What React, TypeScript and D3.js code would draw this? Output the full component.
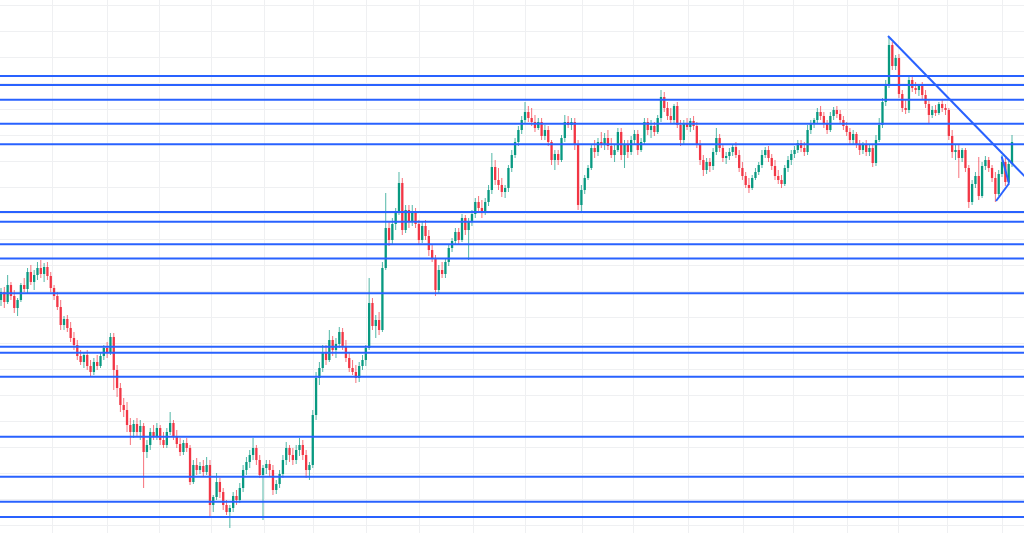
import React, { useRef, useEffect } from 'react';
import * as d3 from 'd3';

// [open, high, low, close], one row per bar
const candles: [number, number, number, number][] = [
  [300, 312, 294, 308], [308, 313, 292, 298], [298, 325, 296, 315], [315, 318, 300, 304], [304, 310, 287, 292],
  [292, 302, 284, 300], [300, 317, 298, 315], [315, 322, 308, 311], [311, 332, 307, 328], [328, 335, 315, 318],
  [318, 330, 310, 325], [325, 338, 320, 332], [332, 340, 322, 326], [326, 337, 318, 333], [333, 338, 320, 324],
  [324, 328, 308, 312], [312, 315, 300, 304], [304, 308, 290, 293], [293, 300, 270, 275], [275, 284, 270, 281],
  [281, 285, 268, 272], [272, 278, 258, 262], [262, 268, 250, 255], [255, 260, 240, 244], [244, 250, 235, 238],
  [238, 248, 232, 245], [245, 250, 230, 234], [234, 240, 223, 228], [228, 242, 225, 238], [238, 245, 230, 234],
  [234, 248, 232, 244], [244, 255, 240, 252], [252, 258, 242, 248], [248, 267, 245, 263], [263, 267, 210, 230],
  [230, 235, 203, 212], [212, 217, 188, 195], [195, 202, 183, 190], [190, 198, 168, 175], [175, 182, 155, 168],
  [168, 180, 162, 176], [176, 182, 163, 168], [168, 180, 160, 174], [174, 177, 112, 148], [148, 160, 142, 155],
  [155, 172, 150, 168], [168, 175, 160, 164], [164, 177, 160, 172], [172, 175, 155, 160], [160, 168, 152, 155],
  [155, 172, 152, 168], [168, 188, 165, 177], [177, 180, 160, 164], [164, 170, 152, 156], [156, 162, 144, 148],
  [148, 160, 145, 157], [157, 162, 148, 152], [152, 155, 115, 118], [118, 140, 116, 135], [135, 142, 125, 130],
  [130, 138, 126, 134], [134, 140, 124, 128], [128, 143, 125, 135], [135, 140, 83, 95], [95, 105, 88, 103],
  [103, 127, 100, 118], [118, 122, 102, 108], [108, 112, 90, 95], [95, 100, 85, 88], [88, 95, 72, 92],
  [92, 108, 88, 104], [104, 110, 95, 100], [100, 117, 97, 112], [112, 135, 108, 130], [130, 143, 125, 138],
  [138, 150, 132, 145], [145, 162, 140, 152], [152, 155, 135, 140], [140, 145, 122, 125], [125, 135, 80, 132],
  [132, 140, 126, 136], [136, 140, 124, 130], [130, 135, 105, 110], [110, 120, 106, 116], [116, 130, 112, 126],
  [126, 145, 122, 140], [140, 158, 135, 152], [152, 155, 138, 145], [145, 152, 135, 140], [140, 155, 136, 150],
  [150, 162, 144, 155], [155, 160, 140, 145], [145, 150, 122, 130], [130, 138, 120, 135], [135, 190, 132, 185],
  [185, 228, 180, 222], [222, 238, 215, 232], [232, 255, 228, 248], [248, 255, 235, 240], [240, 270, 238, 260],
  [260, 264, 244, 250], [250, 262, 242, 256], [256, 273, 252, 268], [268, 272, 250, 254], [254, 260, 238, 242],
  [242, 248, 228, 232], [232, 240, 225, 228], [228, 235, 217, 222], [222, 238, 218, 234], [234, 245, 230, 240],
  [240, 255, 234, 252], [252, 322, 250, 297], [297, 302, 270, 274], [274, 285, 262, 280], [280, 288, 265, 270],
  [270, 338, 268, 332], [332, 407, 330, 372], [372, 378, 354, 360], [360, 382, 356, 376], [376, 392, 370, 388],
  [388, 428, 385, 417], [417, 422, 365, 370], [370, 395, 367, 390], [390, 395, 372, 378], [378, 395, 374, 388],
  [388, 392, 372, 376], [376, 380, 355, 360], [360, 378, 357, 374], [374, 380, 360, 364], [364, 370, 344, 350],
  [350, 355, 338, 342], [342, 345, 304, 310], [310, 335, 306, 330], [330, 338, 322, 326], [326, 342, 322, 338],
  [338, 356, 334, 352], [352, 362, 348, 359], [359, 372, 355, 368], [368, 372, 356, 360], [360, 386, 358, 382],
  [382, 385, 365, 370], [370, 382, 340, 378], [378, 390, 374, 386], [386, 402, 382, 398], [398, 404, 388, 392],
  [392, 400, 382, 388], [388, 402, 385, 398], [398, 415, 394, 410], [410, 447, 406, 433], [433, 440, 415, 420],
  [420, 432, 410, 415], [415, 422, 403, 408], [408, 415, 402, 412], [412, 435, 408, 432], [432, 450, 428, 445],
  [445, 462, 442, 458], [458, 474, 454, 470], [470, 484, 466, 480], [480, 498, 476, 488], [488, 494, 478, 482],
  [482, 492, 474, 478], [478, 485, 468, 472], [472, 482, 470, 478], [478, 482, 460, 464], [464, 475, 460, 470],
  [470, 474, 454, 458], [458, 460, 435, 440], [440, 450, 430, 446], [446, 450, 435, 440], [440, 465, 438, 462],
  [462, 485, 458, 478], [478, 484, 472, 475], [475, 482, 470, 478], [478, 482, 450, 455], [455, 460, 390, 395],
  [395, 415, 387, 410], [410, 425, 406, 422], [422, 435, 420, 432], [432, 456, 430, 452], [452, 460, 442, 448],
  [448, 462, 444, 458], [458, 468, 452, 455], [455, 467, 450, 462], [462, 470, 450, 454], [454, 462, 442, 445],
  [445, 455, 438, 450], [450, 472, 448, 468], [468, 472, 440, 445], [445, 460, 432, 455], [455, 460, 442, 448],
  [448, 464, 445, 460], [460, 470, 455, 466], [466, 470, 445, 450], [450, 462, 448, 458], [458, 482, 455, 478],
  [478, 482, 465, 470], [470, 480, 462, 474], [474, 478, 464, 468], [468, 485, 466, 482], [482, 510, 478, 503],
  [503, 508, 488, 492], [492, 498, 480, 484], [484, 492, 476, 480], [480, 496, 476, 494], [494, 498, 472, 475],
  [475, 480, 454, 460], [460, 480, 456, 476], [476, 482, 470, 473], [473, 482, 468, 479], [479, 484, 470, 474],
  [474, 478, 452, 455], [455, 460, 435, 440], [440, 445, 424, 430], [430, 442, 426, 438], [438, 442, 428, 434],
  [434, 452, 430, 448], [448, 472, 445, 462], [462, 466, 448, 452], [452, 456, 438, 442], [442, 448, 436, 444],
  [444, 452, 440, 448], [448, 456, 444, 453], [453, 458, 442, 445], [445, 450, 428, 432], [432, 438, 420, 424],
  [424, 428, 412, 415], [415, 422, 407, 412], [412, 425, 410, 422], [422, 432, 420, 428], [428, 438, 425, 435],
  [435, 450, 432, 445], [445, 453, 442, 450], [450, 454, 438, 442], [442, 446, 430, 434], [434, 440, 420, 424],
  [424, 430, 416, 420], [420, 425, 412, 416], [416, 435, 414, 432], [432, 444, 428, 440], [440, 450, 435, 446],
  [446, 454, 442, 450], [450, 460, 447, 457], [457, 460, 448, 452], [452, 458, 444, 448], [448, 475, 445, 470],
  [470, 480, 466, 476], [476, 482, 472, 480], [480, 492, 476, 488], [488, 494, 480, 484], [484, 488, 472, 476],
  [476, 480, 466, 470], [470, 488, 468, 484], [484, 493, 480, 490], [490, 494, 482, 486], [486, 490, 476, 480],
  [480, 484, 470, 474], [474, 478, 464, 468], [468, 472, 455, 460], [460, 470, 456, 466], [466, 468, 452, 455],
  [455, 460, 445, 450], [450, 458, 446, 455], [455, 460, 444, 448], [448, 455, 444, 452], [452, 455, 433, 437],
  [437, 465, 434, 460], [460, 482, 458, 475], [475, 502, 472, 498], [498, 520, 494, 515], [515, 563, 512, 555],
  [555, 558, 530, 534], [534, 545, 530, 542], [542, 546, 502, 506], [506, 510, 488, 492], [492, 500, 486, 490],
  [490, 524, 487, 520], [520, 524, 508, 512], [512, 518, 506, 510], [510, 516, 504, 514], [514, 518, 500, 505],
  [505, 510, 492, 496], [496, 500, 477, 485], [485, 494, 482, 490], [490, 495, 484, 487], [487, 498, 485, 496],
  [496, 500, 488, 492], [492, 496, 485, 490], [490, 492, 460, 464], [464, 470, 442, 448], [448, 455, 440, 450],
  [450, 455, 422, 442], [442, 452, 438, 450], [450, 452, 428, 432], [432, 435, 392, 398], [398, 420, 395, 416],
  [416, 428, 412, 424], [424, 443, 400, 404], [404, 438, 402, 434], [434, 444, 430, 440], [440, 443, 428, 432],
  [432, 435, 418, 422], [422, 428, 398, 406], [406, 430, 404, 426], [426, 445, 423, 438], [438, 442, 414, 418],
  [418, 440, 415, 436], [436, 465, 433, 458],
];

// horizontal levels drawn across the chart
const levels = [524, 515, 500.3, 476.3, 455.7, 388, 378.3, 355.7, 341.5, 306.7, 253.3, 247.3, 223.3, 163.3, 123.3, 98.3, 83];

// trend line and small pattern lines, as [bar index, price]
const trendLine: [number, number][] = [[268.7, 564], [310, 423]];
const patternUp: [number, number][] = [[301.2, 399], [305.1, 416.5]];
const patternDown: [number, number][] = [[302.9, 443.5], [305.1, 416.5]];

// time grid positions (bar index) and price grid levels
const gridBars = [15.4, 32, 47.6, 63.3, 79.3, 94.1, 110, 126, 142.3, 158, 175.2, 190.5, 207.3, 224.2, 239.5, 256.1, 271.7, 286.4, 303];
const priceGrid = d3.range(595, 60, -26);

const UP = '#089981';
const DOWN = '#f23645';
const LINE = '#2962ff';

const App: React.FC = () => {
  const svgRef = useRef<SVGSVGElement>(null);

  useEffect(() => {
    if (!svgRef.current) return;
    const svg = d3.select(svgRef.current);
    svg.selectAll('*').remove();

    const width = 1024;
    const height = 533;

    // time axis is not perfectly uniform (sessions), so map by anchors
    const x = d3.scaleLinear().domain([0, 199, 269, candles.length - 1]).range([1, 661, 889, 1012]);
    const y = d3.scaleLinear().domain([67, 600]).range([height, 0]);
    const bw = 2.3;

    svg.append('rect').attr('width', width).attr('height', height).attr('fill', '#ffffff');

    // grid
    const grid = svg.append('g').attr('stroke', '#eff0f2').attr('stroke-width', 1);
    grid.selectAll('.gx').data(gridBars).enter().append('line')
      .attr('x1', (d) => Math.round(x(d)) + 0.5).attr('x2', (d) => Math.round(x(d)) + 0.5)
      .attr('y1', 0).attr('y2', height);
    grid.selectAll('.gy').data(priceGrid).enter().append('line')
      .attr('x1', 0).attr('x2', width)
      .attr('y1', (d) => Math.round(y(d)) + 0.5).attr('y2', (d) => Math.round(y(d)) + 0.5);

    // candles
    const g = svg.append('g');
    const bars = g.selectAll('.bar').data(candles).enter().append('g');
    bars.append('line')
      .attr('x1', (_, i) => x(i)).attr('x2', (_, i) => x(i))
      .attr('y1', (d) => y(d[1])).attr('y2', (d) => y(d[2]))
      .attr('stroke', (d) => (d[3] >= d[0] ? UP : DOWN))
      .attr('stroke-opacity', 0.7)
      .attr('stroke-width', 1);
    bars.append('rect')
      .attr('x', (_, i) => x(i) - bw / 2)
      .attr('width', bw)
      .attr('y', (d) => y(Math.max(d[0], d[3])))
      .attr('height', (d) => Math.max(1, Math.abs(y(d[0]) - y(d[3]))))
      .attr('fill', (d) => (d[3] >= d[0] ? UP : DOWN));

    // horizontal levels
    svg.append('g').selectAll('line').data(levels).enter().append('line')
      .attr('x1', 0).attr('x2', width)
      .attr('y1', (d) => y(d)).attr('y2', (d) => y(d))
      .attr('stroke', LINE).attr('stroke-width', 2);

    // trend lines
    const line = d3.line<[number, number]>().x((d) => x(d[0])).y((d) => y(d[1]));
    [trendLine, patternUp, patternDown].forEach((pts) => {
      svg.append('path').attr('d', line(pts) || '')
        .attr('fill', 'none').attr('stroke', LINE).attr('stroke-width', 2);
    });
  }, []);

  return (
    <div style={{ position: 'absolute', left: 0, top: 0, width: 1024, height: 533, overflow: 'hidden' }}>
      <svg ref={svgRef} width={1024} height={533} style={{ display: 'block' }} />
    </div>
  );
};

export default App;
